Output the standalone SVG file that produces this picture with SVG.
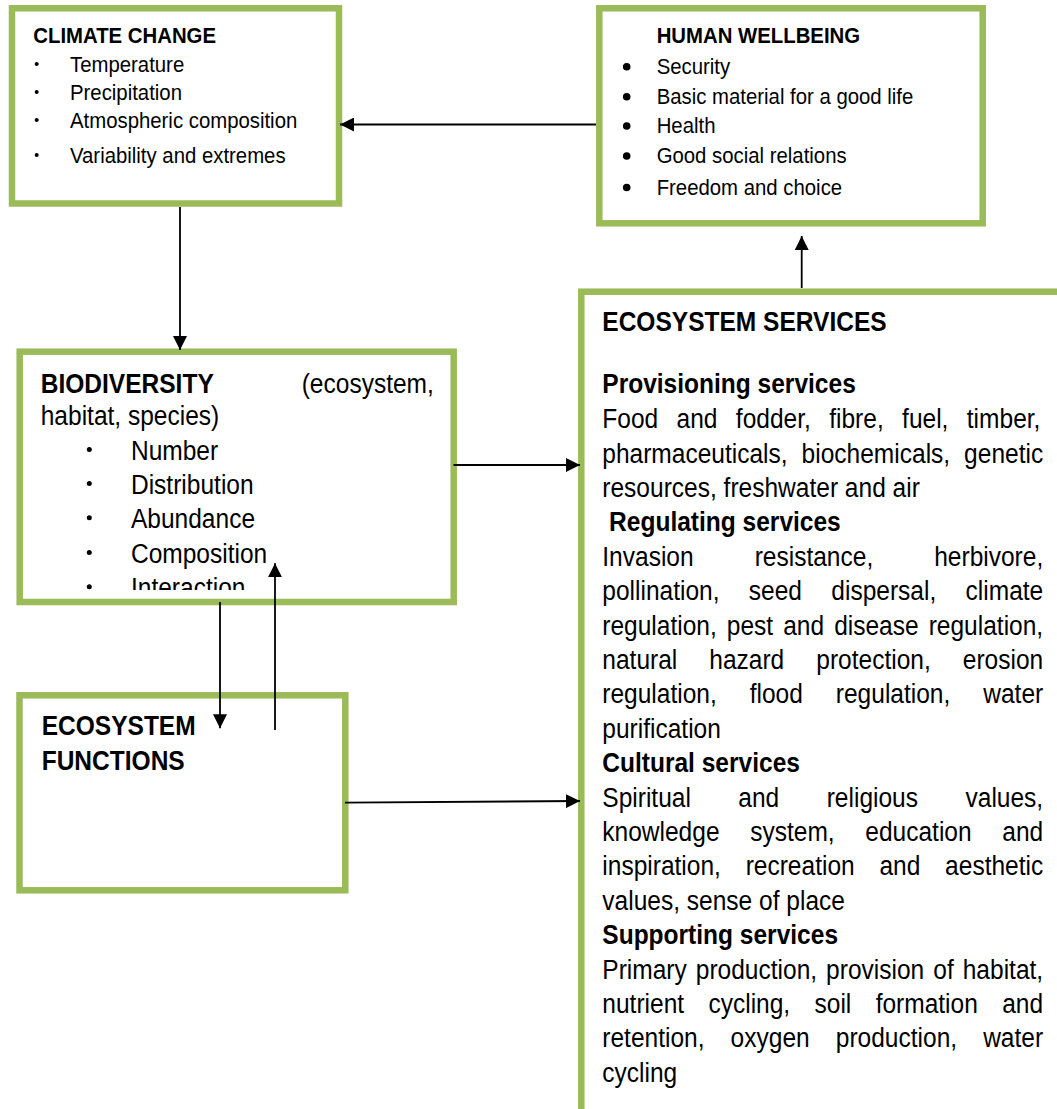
<svg xmlns="http://www.w3.org/2000/svg" width="1057" height="1109" viewBox="0 0 1057 1109">
<style>
.box{fill:#fff;stroke:#9BBB59;stroke-width:6.5}
.t{font-family:"Liberation Sans",Arial,sans-serif;fill:#000}
.s{font-size:22.5px}
.l{font-size:28px}
.b{font-weight:bold}
.con{stroke:#000;stroke-width:1.8;fill:none}
</style>
<defs>
<marker id="ah" viewBox="0 0 14 14" refX="14" refY="7" markerWidth="14" markerHeight="14" markerUnits="userSpaceOnUse" orient="auto"><path d="M0,0 L14,7 L0,14 z" fill="#000"/></marker>
<clipPath id="bioclip"><rect x="22" y="355" width="428" height="235"/></clipPath>
</defs>
<rect width="1057" height="1109" fill="#fff"/>

<g id="climate-change">
<rect class="box" x="12" y="8.3" width="327" height="195.2"/>
<circle cx="36.7" cy="64" r="2"/><circle cx="36.7" cy="92" r="2"/><circle cx="36.7" cy="120" r="2"/><circle cx="36.7" cy="155" r="2"/>
<g transform="scale(0.905,1)" class="t s">
<text class="b" x="36.8" y="42.7">CLIMATE CHANGE</text>
<text x="77.35" y="71.7">Temperature</text>
<text x="77.35" y="100">Precipitation</text>
<text x="77.35" y="128.3">Atmospheric composition</text>
<text x="77.35" y="162.7">Variability and extremes</text>
</g>
</g>

<g id="human-wellbeing">
<rect class="box" x="599.3" y="8.3" width="383.4" height="215"/>
<circle cx="626.7" cy="66.7" r="3.8"/><circle cx="626.7" cy="96.7" r="3.8"/><circle cx="626.7" cy="126" r="3.8"/><circle cx="626.7" cy="156" r="3.8"/><circle cx="626.7" cy="187.5" r="3.8"/>
<g transform="scale(0.905,1)" class="t s">
<text class="b" x="725.6" y="42.7">HUMAN WELLBEING</text>
<text x="725.6" y="74">Security</text>
<text x="725.6" y="104">Basic material for a good life</text>
<text x="725.6" y="133.3">Health</text>
<text x="725.6" y="163.3">Good social relations</text>
<text x="725.6" y="195">Freedom and choice</text>
</g>
</g>

<g id="biodiversity">
<rect class="box" x="19.7" y="351.7" width="434" height="250.3"/>
<circle cx="89.3" cy="449.5" r="2.5"/><circle cx="89.3" cy="483.5" r="2.5"/><circle cx="89.3" cy="517.8" r="2.5"/><circle cx="89.3" cy="552.5" r="2.5"/><circle cx="89.3" cy="586.7" r="2.5"/>
<g clip-path="url(#bioclip)">
<g transform="scale(0.876,1)" class="t l">
<text class="b" x="46.5" y="392.7">BIODIVERSITY</text>
<text x="344.4" y="392.7">(ecosystem,</text>
<text x="46.5" y="425">habitat, species)</text>
<text x="149.5" y="460">Number</text>
<text x="149.5" y="494">Distribution</text>
<text x="149.5" y="528.3">Abundance</text>
<text x="149.5" y="562.7">Composition</text>
<text x="149.5" y="597">Interaction</text>
</g>
</g>
</g>

<g id="ecosystem-functions">
<rect class="box" x="19.5" y="695.3" width="325.8" height="195"/>
<g transform="scale(0.876,1)" class="t l b">
<text x="47.6" y="735">ECOSYSTEM</text>
<text x="47.6" y="770">FUNCTIONS</text>
</g>
</g>

<g id="ecosystem-services">
<rect class="box" x="581.3" y="291.7" width="600" height="900"/>
<g transform="scale(0.876,1)" class="t l">
<text class="b" x="687.56" y="331">ECOSYSTEM SERVICES</text>
<text class="b" x="687.56" y="393.5">Provisioning services</text>
<text x="687.56" y="428.3" word-spacing="13.2">Food and fodder, fibre, fuel, timber,</text>
<text x="687.56" y="462.7" word-spacing="8.17">pharmaceuticals, biochemicals, genetic</text>
<text x="687.56" y="497.1">resources, freshwater and air</text>
<text class="b" x="695.3" y="531.5">Regulating services</text>
<text x="687.56" y="565.9" word-spacing="61.87">Invasion resistance, herbivore,</text>
<text x="687.56" y="600.3" word-spacing="25.68">pollination, seed dispersal, climate</text>
<text x="687.56" y="634.7" word-spacing="3.67">regulation, pest and disease regulation,</text>
<text x="687.56" y="669.1" word-spacing="28.78">natural hazard protection, erosion</text>
<text x="687.56" y="703.5" word-spacing="29.8">regulation, flood regulation, water</text>
<text x="687.56" y="737.9">purification</text>
<text class="b" x="687.56" y="772.3">Cultural services</text>
<text x="687.56" y="806.7" word-spacing="46.4">Spiritual and religious values,</text>
<text x="687.56" y="841.1" word-spacing="27.2">knowledge system, education and</text>
<text x="687.56" y="875.5" word-spacing="20.5">inspiration, recreation and aesthetic</text>
<text x="687.56" y="909.9">values, sense of place</text>
<text class="b" x="687.56" y="944.3">Supporting services</text>
<text x="687.56" y="978.7" word-spacing="2.52">Primary production, provision of habitat,</text>
<text x="687.56" y="1013.1" word-spacing="20">nutrient cycling, soil formation and</text>
<text x="687.56" y="1047.5" word-spacing="22">retention, oxygen production, water</text>
<text x="687.56" y="1081.9">cycling</text>
</g>
</g>

<g id="connectors" class="con">
<line x1="596" y1="124.5" x2="340" y2="124.5" marker-end="url(#ah)"/>
<line x1="180" y1="207" x2="180" y2="350" marker-end="url(#ah)"/>
<line x1="453.5" y1="465" x2="580" y2="465" marker-end="url(#ah)"/>
<line x1="345" y1="802.7" x2="580" y2="801" marker-end="url(#ah)"/>
<line x1="220" y1="602" x2="220" y2="728.3" marker-end="url(#ah)"/>
<line x1="275" y1="730" x2="275" y2="563.3" marker-end="url(#ah)"/>
<line x1="801.7" y1="288" x2="801.7" y2="236" marker-end="url(#ah)"/>
</g>
</svg>
